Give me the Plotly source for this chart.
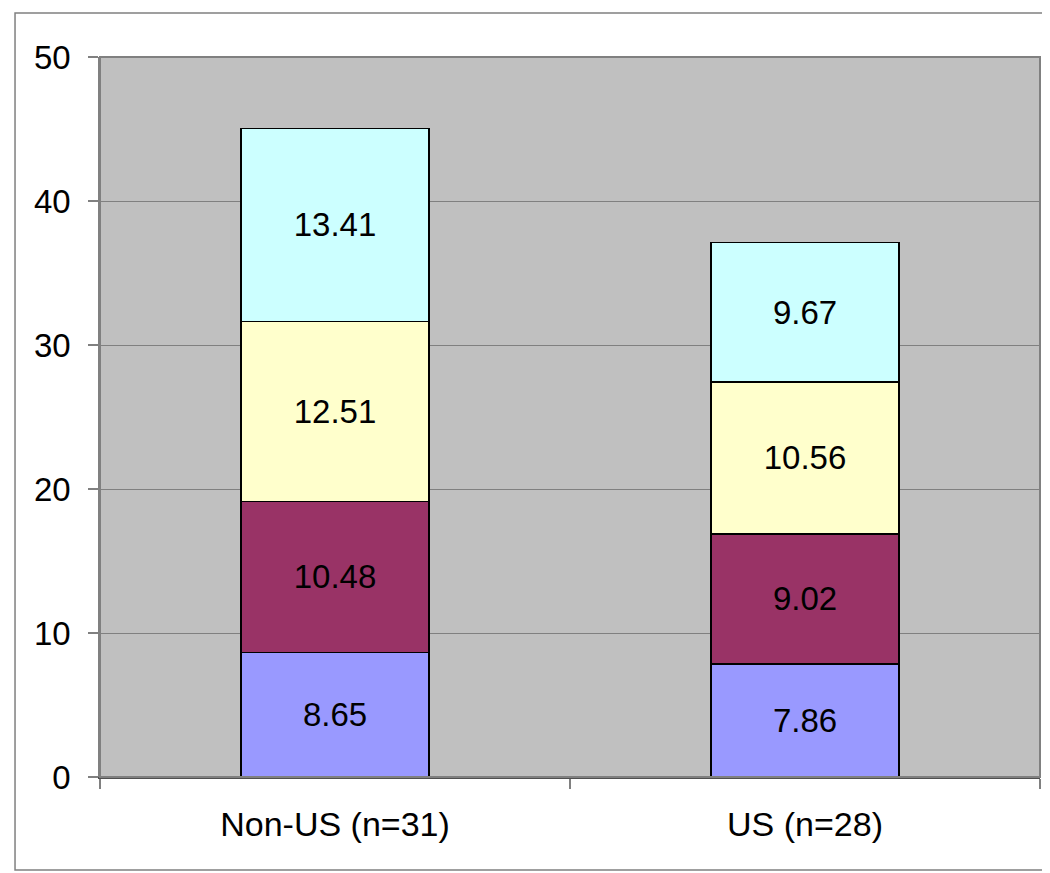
import plotly.graph_objects as go

categories = ["Non-US (n=31)", "US (n=28)"]
seg1 = [8.65, 7.86]
seg2 = [10.48, 9.02]
seg3 = [12.51, 10.56]
seg4 = [13.41, 9.67]
colors = ["#9999FF", "#993366", "#FFFFCC", "#CCFFFF"]
y_ticks = [0, 10, 20, 30, 40, 50]

FONT = "Liberation Sans, Arial, sans-serif"

fig = go.Figure()
for vals, col in zip([seg1, seg2, seg3, seg4], colors):
    fig.add_trace(go.Bar(
        x=categories, y=vals,
        marker=dict(color=col, line=dict(color="black", width=1.5)),
        text=[f"{v:.2f}" for v in vals],
        textposition="inside", insidetextanchor="middle",
        textfont=dict(size=33, color="black", family=FONT),
        width=0.4, showlegend=False, hoverinfo="skip",
    ))

# page body has an 8px margin, so the figure is shrunk by that much
fig.update_layout(
    barmode="stack",
    width=1042, height=865,
    margin=dict(l=92, r=10, t=49, b=96),
    paper_bgcolor="white", plot_bgcolor="#C0C0C0",
    font=dict(family=FONT, size=33, color="black"),
    uniformtext=dict(minsize=33, mode="show"),
    xaxis=dict(
        showgrid=False, ticks="outside", tickson="boundaries",
        ticklen=10, tickcolor="#808080", tickwidth=1.5,
        showline=True, linecolor="#505050", linewidth=2,
        tickfont=dict(size=34), ticklabelstandoff=16,
    ),
    yaxis=dict(
        range=[0, 50], tickvals=y_ticks, showgrid=True,
        gridcolor="#808080", gridwidth=1,
        ticks="outside", ticklen=10, tickcolor="#808080", tickwidth=1.5,
        showline=True, linecolor="#808080", linewidth=1.5,
        tickfont=dict(size=33), ticklabelstandoff=11, zeroline=False,
    ),
    shapes=[
        dict(type="rect", xref="paper", yref="paper", x0=0, x1=1, y0=0, y1=1,
             line=dict(color="#808080", width=2), layer="above"),
        dict(type="rect", xref="paper", yref="paper",
             x0=-0.0904, x1=1.03, y0=-0.129, y1=1.061,
             line=dict(color="#808080", width=1.5), layer="below"),
    ],
)

fig.write_html("out.html")
